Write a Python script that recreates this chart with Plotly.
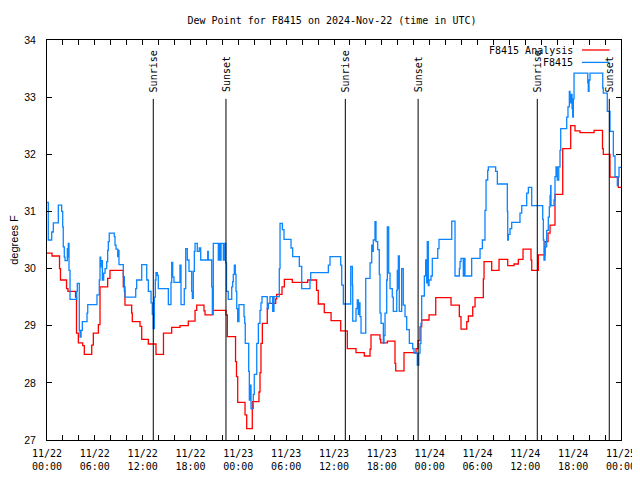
import pandas as pd
import plotly.graph_objects as go

BASE = pd.Timestamp("2024-11-22 00:00")

title_text = "Dew Point for F8415 on 2024-Nov-22 (time in UTC)"
y_label = "degrees F"

# F8415 Analysis (red) : hours since 11/22 00:00 UTC, dew point (F)
red_hours = [0, 0.63, 1.57, 1.69, 2.45, 2.63, 3.58, 3.70, 3.93, 4.48, 4.68, 5.61, 5.81, 6.44,
             6.65, 7.61, 7.90, 9.57, 9.78, 10.62, 10.70, 11.67, 11.88, 12.71, 13.67, 14.61,
             15.64, 16.68, 17.72, 18.57, 18.78, 19.69, 19.82, 20.79, 22.45, 22.62, 23.65,
             23.77, 23.92, 24.84, 25.05, 25.75, 26.59, 26.72, 26.84, 27.01, 27.63, 27.76,
             28.69, 28.81, 29.48, 29.77, 30.77, 32.70, 33.81, 34.03, 34.78, 35.63, 36.84,
             37.67, 38.76, 39.80, 40.52, 40.64, 41.77, 41.86, 42.69, 43.65, 43.74, 44.78,
             46.29, 46.54, 46.79, 47.00, 47.92, 48.76, 50.68, 51.72, 51.93, 52.65, 52.85,
             53.40, 53.69, 54.73, 54.82, 55.78, 56.70, 57.79, 58.58, 59.12, 59.71, 60.71,
             60.80, 61.63, 62.47, 62.85, 63.10, 63.72, 64.69, 65.69, 66.23, 66.86, 68.62,
             69.68, 69.78, 70.62, 71.66, 72.0]
red_values = [30.27, 30.22, 30.0, 29.8, 29.65, 29.6, 29.5, 28.87, 28.7, 28.65, 28.5, 28.66, 28.87,
              29.02, 29.68, 29.83, 29.97, 29.68, 29.36, 29.22, 29.07, 28.99, 28.76, 28.68, 28.50,
              28.87, 28.97, 29.0, 29.08, 29.27, 29.36, 29.26, 29.19, 29.27, 29.19, 28.81, 28.37,
              28.11, 27.66, 27.44, 27.20, 27.67, 27.84, 28.18, 28.69, 29.04, 29.30, 29.39,
              29.47, 29.55, 29.68, 29.81, 29.76, 29.80, 29.62, 29.38, 29.23, 29.09, 28.91,
              28.60, 28.53, 28.47, 28.59, 28.84, 28.76, 28.70, 28.73, 28.34, 28.21, 28.53,
              28.6, 28.74, 28.98, 29.10, 29.19, 29.49, 29.36, 29.16, 28.94, 29.07, 29.17,
              29.33, 29.49, 29.82, 30.12, 29.97, 30.16, 30.05, 30.08, 30.16, 30.34, 30.15,
              29.97, 30.24, 30.47, 30.62, 30.76, 31.30, 32.10, 32.50, 32.41, 32.38, 32.42,
              32.10, 32.00, 31.60, 31.42, 31.42]

# F8415 observations (blue)
blue_hours = [0, 0.16, 0.59, 0.79, 1.42, 1.84, 1.97, 2.04, 2.17, 2.26, 2.55, 2.60, 2.67, 2.76,
              2.89, 3.73, 3.80, 4.05, 4.14, 4.27, 4.43, 5.02, 5.11, 6.27, 6.56, 6.65, 6.74, 6.77,
              6.94, 7.11, 7.28, 7.49, 7.61, 7.69, 7.81, 8.44, 8.53, 8.66, 8.87, 8.94, 9.03, 9.57,
              9.70, 9.78, 11.13, 11.25, 11.88, 12.51, 12.71, 13.05, 13.21, 13.33, 13.46, 13.59,
              13.67, 13.84, 13.96, 15.22, 15.55, 15.64, 15.77, 15.93, 16.68, 16.81, 17.22, 17.40,
              17.60, 17.81, 18.15, 18.23, 18.35, 18.48, 18.57, 18.85, 19.10, 19.28, 20.16, 20.23,
              20.66, 20.74, 20.86, 21.49, 21.58, 21.74, 21.83, 22.12, 22.24, 22.42, 22.52, 22.74,
              23.17, 23.29, 23.37, 23.50, 23.62, 23.71, 23.80, 23.92, 24.08, 24.71, 24.80, 24.87,
              25.30, 25.38, 25.46, 25.59, 25.88, 26.00, 26.31, 26.51, 26.72, 26.84, 26.97, 27.63,
              27.76, 27.97, 28.31, 28.47, 29.14, 29.23, 29.52, 29.73, 30.61, 30.82, 31.65, 31.95,
              32.99, 33.08, 35.29, 35.50, 36.84, 36.97, 37.17, 38.10, 38.30, 38.35, 38.76, 38.92,
              39.05, 39.14, 39.26, 39.39, 39.98, 40.52, 40.73, 40.86, 40.93, 41.14, 41.27, 41.48,
              41.68, 41.77, 41.90, 42.19, 42.27, 42.40, 42.61, 42.69, 42.86, 43.03, 43.31, 43.44,
              43.87, 43.94, 44.03, 44.07, 44.19, 44.49, 44.69, 44.91, 45.12, 45.45, 45.87, 46.04,
              46.45, 46.63, 46.79, 46.91, 47.00, 47.33, 47.50, 47.63, 47.70, 47.83, 47.92, 48.17,
              48.33, 49.01, 49.17, 50.77, 51.18, 51.72, 51.81, 51.93, 52.22, 52.35, 52.43, 53.27,
              54.32, 54.61, 54.94, 55.07, 55.28, 55.36, 56.28, 56.49, 57.74, 57.79, 57.87, 58.08,
              58.29, 59.33, 59.55, 60.17, 60.38, 60.80, 62.18, 62.26, 62.34, 62.47, 62.68, 62.88,
              63.01, 63.10, 63.18, 63.22, 63.60, 63.72, 63.85, 64.01, 64.19, 64.35, 64.44, 65.19,
              65.35, 65.52, 65.61, 65.73, 65.86, 65.94, 66.02, 66.11, 67.83, 67.90, 67.99, 68.11,
              69.71, 69.78, 70.28, 70.62, 71.04, 71.25, 71.54, 71.63, 71.75, 72.0]
blue_values = [31.16, 30.5, 30.64, 30.8, 31.11, 31.0, 30.73, 30.38, 30.2, 30.14, 30.35, 30.2, 30.44,
               29.97, 29.46, 29.6, 29.74, 28.92, 28.8, 28.92, 29.07, 29.22, 29.37, 29.54, 29.8,
               30.2, 30.03, 30.14, 29.8, 29.92, 30.0, 30.12, 30.32, 30.47, 30.62, 30.56, 30.41,
               30.34, 30.21, 30.32, 30.07, 29.86, 29.6, 29.5, 29.65, 29.8, 30.07, 29.8, 29.6, 29.4,
               29.2, 28.95, 29.5, 29.8, 29.93, 29.88, 29.65, 29.37, 29.76, 30.11, 29.85, 29.76,
               30.06, 29.37, 29.65, 30.35, 30.15, 29.95, 29.6, 29.48, 29.95, 30.3, 30.44, 30.3,
               30.36, 30.15, 30.3, 30.15, 29.68, 29.2, 30.44, 30.15, 30.44, 30.15, 30.44, 30.15,
               30.44, 30.1, 29.6, 29.46, 29.68, 29.77, 29.9, 30.06, 29.9, 29.6, 29.3, 29.07, 29.37,
               29.16, 29.04, 28.69, 28.2, 27.7, 27.96, 27.55, 27.8, 28.15, 28.69, 29.04, 29.27,
               29.4, 29.51, 29.3, 29.39, 29.51, 29.25, 29.51, 30.0, 30.79, 30.68, 30.51, 30.36,
               30.21, 30.04, 29.65, 29.79, 29.93, 30.06, 30.21, 30.06, 29.71, 29.38, 30.04, 29.71,
               29.08, 29.3, 29.45, 29.2, 29.4, 29.16, 28.87, 29.83, 30.1, 30.41, 30.3, 30.5, 30.82,
               30.47, 30.33, 29.9, 29.22, 29.04, 28.69, 28.83, 29.22, 29.8, 30.73, 29.92, 29.65,
               29.5, 29.25, 29.62, 29.97, 29.65, 30.22, 29.25, 30.0, 29.36, 29.16, 28.93, 28.69,
               28.6, 28.52, 28.31, 28.52, 28.69, 29.04, 29.52, 29.87, 30.15, 29.75, 30.47, 29.7,
               29.8, 29.87, 30.18, 30.35, 30.51, 30.83, 29.87, 30.0, 30.12, 30.18, 29.87, 30.18,
               29.87, 30.18, 30.35, 30.5, 31.02, 31.55, 31.72, 31.78, 31.7, 31.48, 31.0, 30.5,
               30.6, 30.7, 30.81, 30.97, 31.1, 31.32, 31.42, 31.1, 30.86, 30.5, 30.15, 30.38,
               30.67, 30.9, 31.08, 31.28, 31.45, 31.1, 31.2, 31.61, 31.78, 31.55, 31.78, 32.07,
               32.45, 32.65, 32.83, 33.10, 32.9, 33.05, 32.8, 32.65, 32.97, 33.42, 33.25, 33.1,
               33.3, 33.42, 33.16, 33.07, 32.75, 32.40, 31.97, 31.61, 31.45, 31.6, 31.77, 31.77]

sunrise_hours = [13.33, 37.42, 61.50]
sunset_hours = [22.45, 46.55, 70.53]

tick_hours = list(range(0, 73, 2))
y_ticks = [27, 28, 29, 30, 31, 32, 33, 34]
y_range = [27, 34]


def to_time(hours):
    return [BASE + pd.Timedelta(hours=h) for h in hours]


def tick_label(h):
    if h % 6:
        return ""
    t = BASE + pd.Timedelta(hours=h)
    return t.strftime("%m/%d") + "<br>" + t.strftime("%H:%M")


MONO = "DejaVu Sans Mono"
SANS = "Liberation Sans"

# the page body has an 8px margin, so the figure is sized to fit the 640x480 window
FIG_W, FIG_H = 632, 472

fig = go.Figure()
fig.add_trace(go.Scatter(x=to_time(red_hours), y=red_values, mode="lines",
                         line=dict(color="#ff0000", width=1.3, shape="hv"),
                         name="F8415 Analysis", showlegend=False))
fig.add_trace(go.Scatter(x=to_time(blue_hours), y=blue_values, mode="lines",
                         line=dict(color="#0a84ff", width=1.3, shape="hv"),
                         name="F8415", showlegend=False))

annotations = []
shapes = []
for label, hours in (("Sunrise", sunrise_hours), ("Sunset", sunset_hours)):
    for h in hours:
        t = BASE + pd.Timedelta(hours=h)
        shapes.append(dict(type="line", xref="x", yref="y", x0=t, x1=t, y0=y_range[0], y1=32.97,
                           line=dict(color="black", width=1)))
        annotations.append(dict(x=t, y=33.0, xref="x", yref="y", text=label, textangle=-90,
                                showarrow=False, xanchor="center", yanchor="bottom", yshift=3,
                                font=dict(family=MONO, size=10, color="black")))

# gnuplot-style key: text on the left, line sample on the right
legend_items = [("F8415 Analysis", "#ff0000", 0.975), ("F8415", "#0a84ff", 0.944)]
for text, color, yp in legend_items:
    annotations.append(dict(x=0.920, y=yp, xref="paper", yref="paper", text=text,
                            showarrow=False, xanchor="right", yanchor="middle",
                            font=dict(family=MONO, size=10, color="black")))
    shapes.append(dict(type="line", xref="paper", yref="paper", x0=0.932, x1=0.98, y0=yp, y1=yp,
                       line=dict(color=color, width=1.3)))

fig.update_layout(
    width=FIG_W, height=FIG_H,
    margin=dict(l=39, r=19, t=32, b=40, pad=0, autoexpand=False),
    paper_bgcolor="white", plot_bgcolor="white",
    title=dict(text=title_text, x=324 / FIG_W, xanchor="center", y=1 - 12 / FIG_H,
               yanchor="middle", font=dict(family=MONO, size=10, color="black")),
    annotations=annotations, shapes=shapes, showlegend=False,
    xaxis=dict(type="date", range=[BASE, BASE + pd.Timedelta(hours=72)],
               tickvals=to_time(tick_hours), ticktext=[tick_label(h) for h in tick_hours],
               ticks="inside", ticklen=5, tickcolor="black", tickwidth=1,
               showline=True, linecolor="black", linewidth=1, mirror="ticks",
               showgrid=False, zeroline=False, automargin=False, ticklabelstandoff=4,
               ticklabeloverflow="allow",
               tickfont=dict(family=MONO, size=10, color="black")),
    yaxis=dict(range=y_range, tickvals=y_ticks, ticks="inside", ticklen=5,
               tickcolor="black", tickwidth=1, showline=True, linecolor="black",
               linewidth=1, mirror="ticks", showgrid=False, zeroline=False,
               automargin=False, ticklabelstandoff=8,
               tickfont=dict(family=SANS, size=10.5, color="black"),
               title=dict(text=y_label, font=dict(family=SANS, size=11, color="black"),
                          standoff=6)),
)

fig.write_html("out.html")
